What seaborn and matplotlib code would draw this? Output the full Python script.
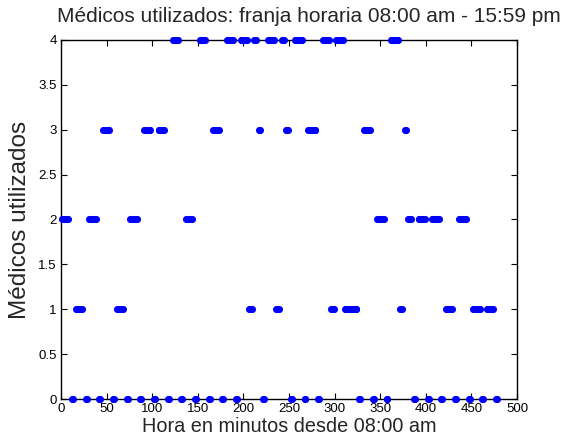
import matplotlib
matplotlib.use("Agg")
import matplotlib.pyplot as plt
import seaborn as sns
import pandas as pd

t_level4 = [123, 124, 125, 126, 127, 128,
            152, 153, 154, 155, 156, 157, 158,
            182, 183, 184, 185, 186, 187, 188, 189,
            197, 198, 199, 200, 201, 202, 203, 204,
            212, 213, 214,
            227, 228, 229, 230, 231, 232, 233, 234,
            242, 243, 244,
            257, 258, 259, 260, 261, 262, 263, 264,
            287, 288, 289, 290, 291, 292, 293, 294,
            302, 303, 304, 305, 306, 307, 308, 309,
            362, 363, 364, 365, 366, 367, 368, 369]
t_level3 = [46, 47, 48, 49, 50, 51, 52, 53,
            91, 92, 93, 94, 95, 96, 97, 98,
            107, 108, 109, 110, 111, 112, 113,
            167, 168, 169, 170, 171, 172, 173,
            217, 218,
            247, 248, 249,
            271, 272, 273, 274, 275, 276, 277, 278, 279,
            332, 333, 334, 335, 336, 337, 338, 339,
            377, 378]
t_level2 = [1, 2, 3, 4, 5, 6, 7, 8,
            31, 32, 33, 34, 35, 36, 37, 38,
            76, 77, 78, 79, 80, 81, 82, 83,
            137, 138, 139, 140, 141, 142, 143, 144,
            347, 348, 349, 350, 351, 352, 353, 354,
            381, 382, 383, 384,
            392, 393, 394, 395, 396, 397, 398, 399,
            407, 408, 409, 410, 411, 412, 413, 414,
            436, 437, 438, 439, 440, 441, 442, 443, 444]
t_level1 = [16, 17, 18, 19, 20, 21, 22, 23,
            61, 62, 63, 64, 65, 66, 67, 68,
            206, 207, 208, 209,
            236, 237, 238, 239,
            296, 297, 298, 299,
            311, 312, 313, 314, 315, 316, 317, 318, 319, 320, 321, 322, 323, 324,
            372, 373, 374,
            422, 423, 424, 425, 426, 427, 428, 429,
            452, 453, 454, 455, 456, 457, 458, 459,
            467, 468, 469, 470, 471, 472, 473, 474]
t_level0 = [12, 13, 27, 28, 42, 43, 57, 58, 72, 73, 87, 88, 102, 103,
            117, 118, 132, 133, 147, 148, 162, 163, 177, 178, 192, 193,
            222, 223, 252, 253, 267, 268, 282, 283, 327, 328, 342, 343,
            357, 358, 387, 388, 402, 403, 417, 418, 432, 433, 447, 448,
            462, 463, 477, 478]

levels = [4, 3, 2, 1, 0]
times = [t_level4, t_level3, t_level2, t_level1, t_level0]

x_ticks = [0, 50, 100, 150, 200, 250, 300, 350, 400, 450, 500]
y_ticks = [0, 0.5, 1, 1.5, 2, 2.5, 3, 3.5, 4]
y_tick_labels = ["0", "0.5", "1", "1.5", "2", "2.5", "3", "3.5", "4"]

title = "Médicos utilizados: franja horaria 08:00 am - 15:59 pm"
xlabel = "Hora en minutos desde 08:00 am"
ylabel = "Médicos utilizados"

rows = []
for lev, ts in zip(levels, times):
    for t in ts:
        rows.append({"minuto": t, "medicos": lev})
df = pd.DataFrame(rows)

sns.set_style("ticks")
plt.rcParams["font.family"] = ["Liberation Sans", "DejaVu Sans"]

fig = plt.figure(figsize=(5.65, 4.48), dpi=100)
ax = fig.add_axes([61 / 565, 1 - 399 / 448, 456 / 565, 359 / 448])

sns.scatterplot(data=df, x="minuto", y="medicos", ax=ax, color="#0000ff",
                s=26, linewidth=0, clip_on=False, zorder=3, legend=False)

ax.set_xlim(0, 500)
ax.set_ylim(0, 4)
ax.set_xticks(x_ticks)
ax.set_xticklabels([str(v) for v in x_ticks])
ax.set_yticks(y_ticks)
ax.set_yticklabels(y_tick_labels)
ax.tick_params(direction="in", length=4, width=0.8, top=True, right=True,
               labelsize=9.5, pad=3, colors="black")
for sp in ax.spines.values():
    sp.set_visible(True)
    sp.set_linewidth(1.0)
    sp.set_color("black")

ax.set_xlabel(xlabel, fontsize=14.3, labelpad=1)
ax.set_ylabel(ylabel, fontsize=17.5, labelpad=5)
fig.text(309 / 565, 1 - 22 / 448, title, fontsize=15, ha="center", va="baseline")

fig.savefig("out.png", dpi=100)
